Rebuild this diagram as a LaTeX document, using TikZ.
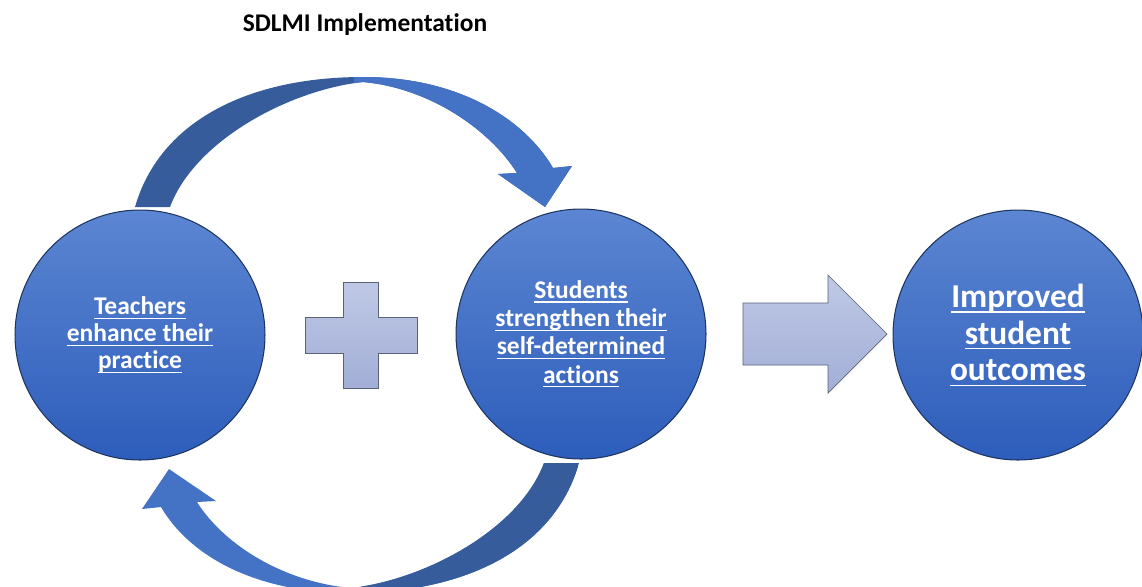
\documentclass[tikz,border=0pt]{standalone}
\usepackage{fontspec}
\setmainfont{Carlito}[Ligatures = NoCommon]
\usetikzlibrary{positioning}
\newcommand{\ulx}[1]{\setbox0\hbox{#1}\rlap{\rule[-0.16em]{\wd0}{0.8pt}}\box0}
\definecolor{circtop}{HTML}{5C86D2}
\definecolor{circbot}{HTML}{2D5DBB}
\definecolor{circedge}{HTML}{1E3560}
\definecolor{arcdark}{HTML}{365C9C}
\definecolor{arclight}{HTML}{4472C4}
\definecolor{shapetop}{HTML}{BFC9E6}
\definecolor{shapebot}{HTML}{A2AED6}
\definecolor{shapeedge}{HTML}{5A6277}
\tikzset{circ/.style = {circle, minimum size = 5cm, inner sep = 0, top color = circtop,
                        bottom color = circbot, draw = circedge, line width = 0.6pt,
                        text = white, align = center}}
\tikzset{leftdark/.style = {fill = arcdark,
                            path picture = {\fill [arclight] (path picture bounding box.north)
                                            rectangle (path picture bounding box.south east);}}}
\tikzset{rightdark/.style = {fill = arclight,
                             path picture = {\fill [arcdark] (path picture bounding box.north)
                                             rectangle (path picture bounding box.south east);}}}
\tikzset{block/.style = {top color = shapetop, bottom color = shapebot, draw = shapeedge,
                         line width = 0.4pt, line join = miter}}

\begin{document}
\begin{tikzpicture}[x = 0.02cm, y = -0.02cm]
      \useasboundingbox (0, 0) rectangle (1142, 586);

      \node (title) at (365, 25) {\fontsize{14.5}{17}\selectfont\bfseries SDLMI Implementation};

      % loop arrows, behind the circles
      \path [leftdark] (135, 207) .. controls (160, 120) and (250, 77) .. (363, 77)
            .. controls (460, 77) and (525, 120) .. (553, 168)
            -- (572, 166) -- (545, 207) -- (498, 174) -- (517, 173)
            .. controls (490, 130) and (430, 88) .. (363, 82)
            .. controls (290, 90) and (195, 140) .. (170, 207) -- cycle;
      \path [rightdark] (579, 463) .. controls (554, 550) and (464, 593) .. (351, 593)
            .. controls (254, 593) and (189, 555) .. (161, 507)
            -- (142, 509) -- (169, 469) -- (216, 501) -- (197, 502)
            .. controls (224, 545) and (284, 582) .. (351, 588)
            .. controls (424, 580) and (519, 530) .. (544, 463) -- cycle;

      \node [circ, font = \bfseries\fontsize{14.5}{15.4}\selectfont] (teachers) at (140, 335)
            {\ulx{Teachers}\\\ulx{enhance their}\\\ulx{practice}};
      \node [circ, font = \bfseries\fontsize{14.5}{16}\selectfont] (students) at (581, 334)
            {\ulx{Students}\\\ulx{strengthen their}\\\ulx{self-determined}\\\ulx{actions}};
      \node [circ, font = \bfseries\fontsize{19}{20.8}\selectfont] (outcomes) at (1018, 335)
            {\ulx{Improved}\\\ulx{student}\\\ulx{outcomes}};

      % plus and block arrow
      \draw [block] (343, 282) -- (378, 282) -- (378, 317) -- (417, 317) -- (417, 353) -- (378, 353)
            -- (378, 388) -- (343, 388) -- (343, 353) -- (305, 353) -- (305, 317) -- (343, 317) -- cycle;
      \draw [block] (743, 303) -- (828, 303) -- (828, 275) -- (887, 334) -- (828, 393) -- (828, 365)
            -- (743, 365) -- cycle;
\end{tikzpicture}
\end{document}
